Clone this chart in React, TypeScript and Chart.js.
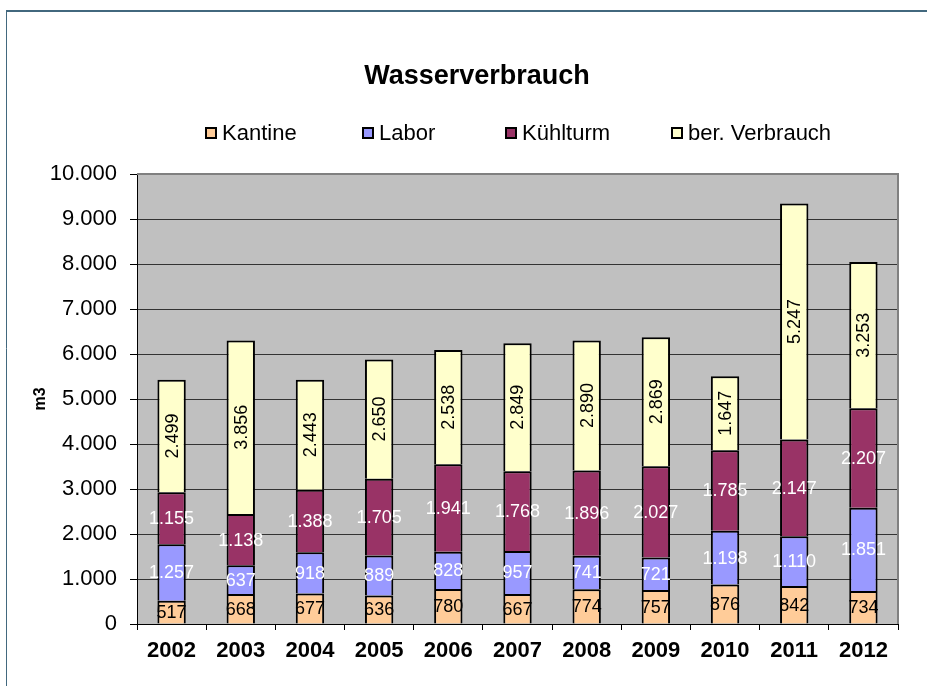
import React, { useEffect, useRef } from 'react';
import { Chart, registerables } from 'chart.js';

Chart.register(...registerables);

const years = ['2002', '2003', '2004', '2005', '2006', '2007', '2008', '2009', '2010', '2011', '2012'];
const kantine = [517, 668, 677, 636, 780, 667, 774, 757, 876, 842, 734];
const labor = [1257, 637, 918, 889, 828, 957, 741, 721, 1198, 1110, 1851];
const kuehlturm = [1155, 1138, 1388, 1705, 1941, 1768, 1896, 2027, 1785, 2147, 2207];
const berVerbrauch = [2499, 3856, 2443, 2650, 2538, 2849, 2890, 2869, 1647, 5247, 3253];
const seriesNames = ['Kantine', 'Labor', 'Kühlturm', 'ber. Verbrauch'];
const seriesColors = ['#FFCC99', '#9999FF', '#993366', '#FFFFCC'];
const labelColors = ['#000000', '#FFFFFF', '#FFFFFF', '#000000'];
const labelRotated = [false, false, false, true];
const yMin = 0;
const yMax = 10000;
const yStep = 1000;
const titleText = 'Wasserverbrauch';
const yAxisTitle = 'm3';

const FONT = '"Liberation Sans", Arial, sans-serif';

const fmt = (n: number) => String(n).replace(/\B(?=(\d{3})+(?!\d))/g, '.');

const framePlugin = {
  id: 'frame',
  beforeDraw(chart: any) {
    const { ctx, chartArea } = chart;
    ctx.save();
    ctx.fillStyle = '#FFFFFF';
    ctx.fillRect(0, 0, chart.width, chart.height);
    ctx.strokeStyle = '#42687E';
    ctx.lineWidth = 2;
    ctx.beginPath();
    ctx.moveTo(6, 11);
    ctx.lineTo(chart.width, 11);
    ctx.stroke();
    ctx.lineWidth = 1;
    ctx.beginPath();
    ctx.moveTo(6.5, 11);
    ctx.lineTo(6.5, chart.height);
    ctx.stroke();
    ctx.fillStyle = '#C0C0C0';
    ctx.fillRect(chartArea.left, chartArea.top, chartArea.right - chartArea.left, chartArea.bottom - chartArea.top);
    ctx.restore();
  },
  beforeDatasetsDraw(chart: any) {
    const { ctx, chartArea } = chart;
    ctx.save();
    ctx.strokeStyle = '#808080';
    ctx.lineWidth = 2;
    ctx.beginPath();
    ctx.moveTo(chartArea.left, chartArea.top);
    ctx.lineTo(chartArea.right, chartArea.top);
    ctx.lineTo(chartArea.right, chartArea.bottom);
    ctx.stroke();
    ctx.restore();
  },
};

const dataLabelPlugin = {
  id: 'dataLabels',
  afterDatasetsDraw(chart: any) {
    const { ctx } = chart;
    ctx.save();
    ctx.font = `18px ${FONT}`;
    ctx.textAlign = 'center';
    ctx.textBaseline = 'middle';
    chart.data.datasets.forEach((ds: any, di: number) => {
      const meta = chart.getDatasetMeta(di);
      meta.data.forEach((bar: any, i: number) => {
        const v = ds.data[i];
        const cy = (bar.y + bar.base) / 2;
        ctx.fillStyle = labelColors[di];
        if (labelRotated[di]) {
          ctx.save();
          ctx.translate(bar.x, cy);
          ctx.rotate(-Math.PI / 2);
          ctx.fillText(fmt(v), 0, 1);
          ctx.restore();
        } else {
          ctx.fillText(fmt(v), bar.x, cy + 1);
        }
      });
    });
    ctx.restore();
  },
};

const titleLegendPlugin = {
  id: 'titleLegend',
  afterDraw(chart: any) {
    const { ctx } = chart;
    ctx.save();
    ctx.fillStyle = '#000000';
    ctx.font = `bold 27px ${FONT}`;
    ctx.textAlign = 'center';
    ctx.textBaseline = 'alphabetic';
    ctx.fillText(titleText, 477, 84);
    const boxX = [205, 362, 505, 671];
    ctx.font = `22px ${FONT}`;
    ctx.textAlign = 'left';
    ctx.textBaseline = 'middle';
    chart.data.datasets.forEach((ds: any, i: number) => {
      const x = boxX[i];
      ctx.fillStyle = ds.backgroundColor;
      ctx.fillRect(x, 127, 12, 12);
      ctx.strokeStyle = '#000000';
      ctx.lineWidth = 2;
      ctx.strokeRect(x + 1, 128, 10, 10);
      ctx.fillStyle = '#000000';
      ctx.fillText(ds.label, x + 17, 134);
    });
    ctx.restore();
  },
};

export default function App() {
  const ref = useRef<HTMLCanvasElement | null>(null);
  useEffect(() => {
    if (!ref.current) return;
    const values = [kantine, labor, kuehlturm, berVerbrauch];
    const chart = new Chart(ref.current, {
      type: 'bar',
      data: {
        labels: years,
        datasets: values.map((d, i) => ({
          label: seriesNames[i],
          data: d,
          backgroundColor: seriesColors[i],
          borderColor: '#000000',
          borderWidth: 2,
          categoryPercentage: 1,
          barPercentage: 0.41,
        })),
      },
      options: {
        responsive: false,
        animation: false,
        layout: { padding: { top: 174, right: 29, left: 0, bottom: 0 } },
        plugins: {
          legend: { display: false },
          title: { display: false },
          tooltip: { enabled: false },
        },
        scales: {
          x: {
            stacked: true,
            offset: true,
            grid: {
              offset: true,
              drawOnChartArea: false,
              drawTicks: true,
              tickLength: 6,
              tickColor: '#000000',
              color: '#000000',
            },
            border: { display: true, color: '#000000', width: 1 },
            ticks: {
              color: '#000000',
              font: { family: FONT, size: 22, weight: 'bold' },
              padding: 8,
              maxRotation: 0,
              autoSkip: false,
            },
            afterFit(scale: any) {
              scale.height = 62;
            },
          },
          y: {
            stacked: true,
            min: yMin,
            max: yMax,
            grid: {
              color: '#333333',
              lineWidth: 1,
              tickLength: 7,
              tickColor: '#000000',
            },
            border: { display: true, color: '#000000', width: 1 },
            ticks: {
              stepSize: yStep,
              color: '#000000',
              font: { family: FONT, size: 22 },
              padding: 13,
              callback: (v: any) => fmt(Number(v)),
            },
            title: {
              display: true,
              text: yAxisTitle,
              color: '#000000',
              font: { family: FONT, size: 16, weight: 'bold' },
              padding: { top: 31, bottom: 0 },
            },
            afterFit(scale: any) {
              scale.width = 137;
            },
          },
        },
      },
      plugins: [framePlugin, dataLabelPlugin, titleLegendPlugin],
    } as any);
    return () => chart.destroy();
  }, []);
  return (
    <div style={{ position: 'fixed', left: 0, top: 0, width: 927, height: 686 }}>
      <canvas ref={ref} width={927} height={686} style={{ display: 'block' }} />
    </div>
  );
}
